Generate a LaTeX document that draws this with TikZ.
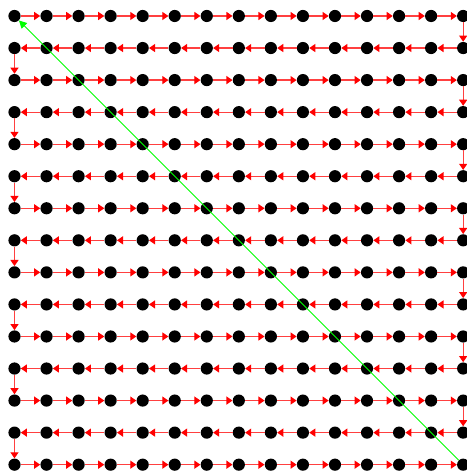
\documentclass[tikz,border=0pt]{standalone}
\usepackage{tikz}
\usetikzlibrary{arrows.meta}

\begin{document}
\begin{tikzpicture}[x=1cm, y=-1cm,
    dot/.style={circle, fill=black, inner sep=0pt, minimum size=0.38cm},
    link/.style={-{Triangle[length=0.19cm, width=0.25cm, color=red]}, red!75, line width=1.1pt},
    back/.style={-{Triangle[length=0.24cm, width=0.24cm]}, green, line width=0.8pt}]
    \useasboundingbox (-0.452,-0.499) rectangle (14.118,14.26);
    % grid of dots
    \foreach \r in {0,...,14}
      \foreach \c in {0,...,14}
        \node[dot] (n-\r-\c) at (\c,\r) {};
    % snake through the rows
    \foreach \r [evaluate=\r as \s using int(\r+1)] in {0,...,14} {
      \foreach \c [evaluate=\c as \d using int(\c+1)] in {0,...,13} {
        \ifodd\r
          \draw[link] (n-\r-\d) -- (n-\r-\c);
        \else
          \draw[link] (n-\r-\c) -- (n-\r-\d);
        \fi
      }
      \ifnum\r<14
        \ifodd\r
          \draw[link] (n-\r-0) -- (n-\s-0);
        \else
          \draw[link] (n-\r-14) -- (n-\s-14);
        \fi
      \fi
    }
    \draw[back] (n-14-14) -- (n-0-0);
\end{tikzpicture}
\end{document}
